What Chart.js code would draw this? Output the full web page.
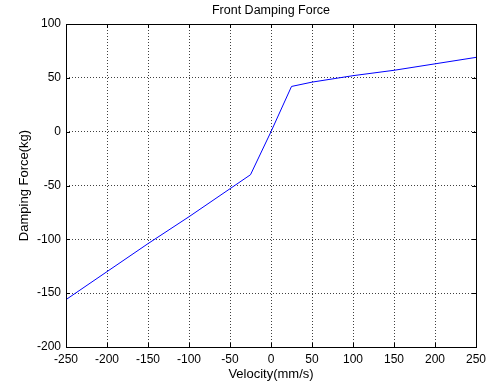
<!DOCTYPE html>
<html>
<head>
<meta charset="utf-8">
<script src="https://cdn.jsdelivr.net/npm/chart.js@4/dist/chart.umd.min.js"></script>
<style>
  html, body { margin: 0; padding: 0; background: #fff; }
  #wrap { width: 486px; height: 387px; }
</style>
</head>
<body>
<div id="wrap"><canvas id="c" width="486" height="387"></canvas></div>
<script>
// Damper curve: velocity (mm/s) vs damping force (kg)
const velocity = [-250, -200, -150, -100, -50, -25, 0, 25, 50, 100, 150, 200, 250];
const force    = [-156, -130, -104, -79, -53, -40, 0, 42, 46, 52, 57, 63, 69];

const xTicks = [-250, -200, -150, -100, -50, 0, 50, 100, 150, 200, 250];
const yTicks = [-200, -150, -100, -50, 0, 50, 100];

const FONT = "'Liberation Sans', Arial, Helvetica, sans-serif";

// Frame around the plot with inward tick marks on all four sides
const framePlugin = {
  id: 'frame',
  afterDatasetsDraw(chart) {
    const { ctx, chartArea: a, scales } = chart;
    const len = 4;
    ctx.save();
    ctx.strokeStyle = '#000';
    ctx.lineWidth = 1;
    ctx.beginPath();
    xTicks.forEach(v => {
      const px = Math.round(scales.x.getPixelForValue(v)) + 0.5;
      ctx.moveTo(px, a.bottom); ctx.lineTo(px, a.bottom - len);
      ctx.moveTo(px, a.top); ctx.lineTo(px, a.top + len);
    });
    yTicks.forEach(v => {
      const py = Math.round(scales.y.getPixelForValue(v)) + 0.5;
      ctx.moveTo(a.left, py); ctx.lineTo(a.left + len, py);
      ctx.moveTo(a.right, py); ctx.lineTo(a.right - len, py);
    });
    ctx.stroke();
    ctx.strokeRect(Math.round(a.left) + 0.5, Math.round(a.top) + 0.5,
                   Math.round(a.right - a.left), Math.round(a.bottom - a.top));
    ctx.restore();
  }
};

new Chart(document.getElementById('c'), {
  type: 'line',
  data: {
    datasets: [{
      data: velocity.map((v, i) => ({ x: v, y: force[i] })),
      borderColor: '#0000ff',
      borderWidth: 1,
      pointRadius: 0,
      tension: 0,
      fill: false
    }]
  },
  options: {
    responsive: false,
    animation: false,
    layout: { padding: { left: 0, right: 10, top: 0, bottom: 0 } },
    plugins: {
      legend: { display: false },
      tooltip: { enabled: false },
      title: {
        display: true,
        text: 'Front Damping Force',
        fullSize: false,
        color: '#000',
        font: { family: FONT, size: 12.5, weight: 'normal' },
        padding: { top: 3, bottom: 6 }
      }
    },
    scales: {
      x: {
        type: 'linear',
        min: -250, max: 250,
        afterBuildTicks: s => { s.ticks = xTicks.map(v => ({ value: v })); },
        afterFit: s => { s.height = 40; s.paddingLeft = 0; s.paddingRight = 0; },
        grid: { color: 'rgba(0,0,0,0.75)', borderDash: [1, 2], drawTicks: false, lineWidth: 1 },
        border: { display: false, dash: [1, 2] },
        ticks: { color: '#000', font: { family: FONT, size: 12 }, padding: 5, maxRotation: 0, autoSkip: false },
        title: {
          display: true, text: 'Velocity(mm/s)', color: '#000',
          font: { family: FONT, size: 13 }, padding: { top: 0, bottom: 5 }
        }
      },
      y: {
        type: 'linear',
        min: -200, max: 100,
        afterBuildTicks: s => { s.ticks = yTicks.map(v => ({ value: v })); },
        afterFit: s => { s.width = 66; s.paddingTop = 0; s.paddingBottom = 0; },
        grid: { color: 'rgba(0,0,0,0.75)', borderDash: [1, 2], drawTicks: false, lineWidth: 1 },
        border: { display: false, dash: [1, 2] },
        ticks: { color: '#000', font: { family: FONT, size: 12 }, padding: 5, autoSkip: false },
        title: {
          display: true, text: 'Damping Force(kg)', color: '#000',
          font: { family: FONT, size: 13 }, padding: { top: 17, bottom: 0 }
        }
      }
    }
  },
  plugins: [framePlugin]
});
</script>
</body>
</html>
